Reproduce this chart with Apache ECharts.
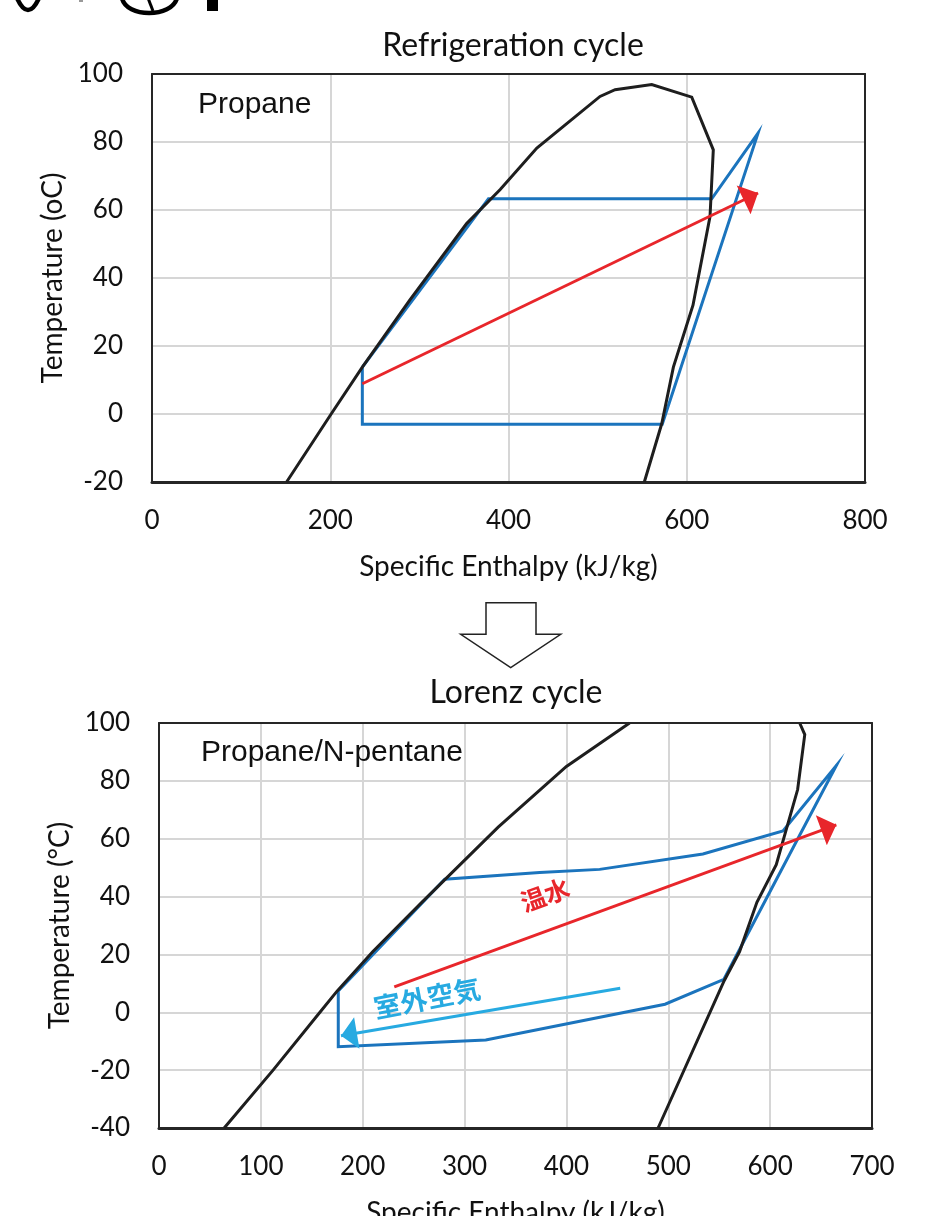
<!DOCTYPE html>
<html>
<head>
<meta charset="utf-8">
<script src="https://cdn.jsdelivr.net/npm/echarts@6/dist/echarts.min.js"></script>
<style>
html,body{margin:0;padding:0;background:#fff;}
#c{width:937px;height:1216px;}
</style>
</head>
<body>
<div id="c"></div>
<script>
// ---------- Data: chart 1 (Propane refrigeration cycle) ----------
const title1 = 'Refrigeration cycle';
const label1 = 'Propane';
const xTicks1 = {min: 0, max: 800, interval: 200};
const yTicks1 = {min: -20, max: 100, interval: 20};
const dome1 = [[151,-20],[201,0],[236,13.8],[289,33.4],[353,56],[390.7,66],[431.8,78.2],[502.7,93.4],[519.6,95.4],[560.7,96.9],[605.6,93.2],[629.8,77.7],[626.1,58.1],[607,32],[585,13.8],[572,-2.8],[552.4,-20]];
const cycle1 = [[236,13.8],[377.5,63.3],[628,63.3],[680,82.6],[572.5,-3],[236,-3],[236,13.8]];
const water1 = [[236,8.9],[680,65]];

// ---------- Data: chart 2 (Propane/N-pentane Lorenz cycle) ----------
const title2 = 'Lorenz cycle';
const label2 = 'Propane/N-pentane';
const xTicks2 = {min: 0, max: 700, interval: 100};
const yTicks2 = {min: -40, max: 100, interval: 20};
const liquid2 = [[64,-40],[112,-20],[158,0],[175,7.4],[210,21],[258,38],[333,64],[400,85],[462,100]];
const vapor2 = [[490,-40],[555,11],[570,21],[587,38],[606,51],[627,77],[634,96],[629,100]];
const cycle2 = [[176,7.4],[280.5,46],[373.7,48.3],[432.6,49.4],[534,54.7],[612.6,62.7],[665,85.3],[554.6,11.4],[496.8,2.8],[320.8,-9.6],[176,-11.9],[176,7.4]];
const water2 = [[231,8.8],[665,64.8]];
const air2 = [[452.8,8.3],[178.7,-8.1]];
const waterLabel = '温水';
const airLabel = '室外空気';

const xName = 'Specific Enthalpy (kJ/kg)';
const yName1 = 'Temperature (oC)';
const yName2 = 'Temperature (°C)';

// ---------- Styles ----------
const FONT = 'Lato';
const BLACK = '#1e1e1e';
const BLUE = '#1b74bd';
const RED = '#e8262b';
const LIGHTBLUE = '#27aae1';
const GRIDC = '#d6d6d6';
const FRAME = '#262626';
// arrow head whose tip sits at the centre of its box (so the tip lands on the end point)
const ARROW_HEAD = 'path://M0,0L0,0.01M0,20L10,40L-10,40Z';

function xAxis(t, gi) {
  return {
    type: 'value', gridIndex: gi, min: t.min, max: t.max, interval: t.interval,
    name: xName, nameLocation: 'middle', nameGap: 71,
    nameTextStyle: {fontFamily: FONT, fontSize: 28, color: '#111'},
    axisLine: {show: true, onZero: false, lineStyle: {color: FRAME, width: 3}},
    axisTick: {show: false},
    axisLabel: {fontFamily: FONT, fontSize: 26, color: '#111', margin: 26},
    splitLine: {show: true, lineStyle: {color: GRIDC, width: 2}}
  };
}
function yAxis(t, gi, name, gap) {
  return {
    type: 'value', gridIndex: gi, min: t.min, max: t.max, interval: t.interval,
    name: name, nameLocation: 'middle', nameGap: gap,
    nameTextStyle: {fontFamily: FONT, fontSize: 28, color: '#111'},
    axisLine: {show: true, onZero: false, lineStyle: {color: FRAME, width: 2}},
    axisTick: {show: false},
    axisLabel: {fontFamily: FONT, fontSize: 26, color: '#111', margin: 29},
    splitLine: {show: true, lineStyle: {color: GRIDC, width: 2}}
  };
}
function frameAxis(t, gi, pos) {
  return {
    type: 'value', gridIndex: gi, min: t.min, max: t.max, interval: t.interval, position: pos,
    axisLine: {show: true, onZero: false, lineStyle: {color: FRAME, width: 2}},
    axisTick: {show: false}, axisLabel: {show: false}, splitLine: {show: false}, z: 5
  };
}
function lineSeries(data, color, gi, z) {
  return {type: 'line', data: data, xAxisIndex: gi, yAxisIndex: gi, showSymbol: false, symbol: 'none',
    silent: true, animation: false, lineStyle: {color: color, width: 3, join: 'miter'}, z: z};
}
function arrowSeries(pts, color, gi) {
  return {type: 'lines', coordinateSystem: 'cartesian2d', xAxisIndex: gi, yAxisIndex: gi,
    symbol: ['none', ARROW_HEAD], symbolSize: [14, 32], silent: true, animation: false,
    lineStyle: {color: color, width: 3, opacity: 1}, data: [{coords: pts}], z: 4};
}

const chart = echarts.init(document.getElementById('c'), null, {renderer: 'canvas'});
chart.setOption({
  backgroundColor: '#fff',
  animation: false,
  grid: [
    {left: 152, top: 74, width: 713, height: 408, outerBoundsMode: 'none', containLabel: false},
    {left: 159, top: 723, width: 713, height: 405, outerBoundsMode: 'none', containLabel: false}
  ],
  xAxis: [xAxis(xTicks1, 0), xAxis(xTicks2, 1), frameAxis(xTicks1, 0, 'top'), frameAxis(xTicks2, 1, 'top')],
  yAxis: [yAxis(yTicks1, 0, yName1, 83), yAxis(yTicks2, 1, yName2, 83), frameAxis(yTicks1, 0, 'right'), frameAxis(yTicks2, 1, 'right')],
  series: [
    lineSeries(cycle1, BLUE, 0, 2),
    lineSeries(dome1, BLACK, 0, 3),
    arrowSeries(water1, RED, 0),
    lineSeries(cycle2, BLUE, 1, 2),
    lineSeries(liquid2, BLACK, 1, 3),
    lineSeries(vapor2, BLACK, 1, 3),
    arrowSeries(water2, RED, 1),
    arrowSeries(air2, LIGHTBLUE, 1)
  ],
  graphic: [
    {type: 'text', x: 513, y: 46, style: {text: title1, fontFamily: FONT, fontSize: 32, fill: '#111', textAlign: 'center', textVerticalAlign: 'middle'}},
    {type: 'text', x: 516, y: 693, style: {text: title2, fontFamily: FONT, fontSize: 32, fill: '#111', textAlign: 'center', textVerticalAlign: 'middle'}},
    {type: 'text', x: 198, y: 105, z: 10, style: {text: label1, fontFamily: 'Liberation Sans', fontSize: 30, fill: '#111', textAlign: 'left', textVerticalAlign: 'middle'}},
    {type: 'text', x: 201, y: 753, z: 10, style: {text: label2, fontFamily: 'Liberation Sans', fontSize: 30, fill: '#111', textAlign: 'left', textVerticalAlign: 'middle'}},
    {type: 'text', x: 545, y: 895, rotation: 20 * Math.PI / 180, z: 10, style: {text: waterLabel, fontFamily: 'Noto Sans CJK JP', fontWeight: 'bold', fontSize: 25, fill: RED, textAlign: 'center', textVerticalAlign: 'middle'}},
    {type: 'text', x: 427, y: 998, rotation: 11 * Math.PI / 180, z: 10, style: {text: airLabel, fontFamily: 'Noto Sans CJK JP', fontWeight: 'bold', fontSize: 27, fill: LIGHTBLUE, textAlign: 'center', textVerticalAlign: 'middle'}},
    // down arrow between charts
    {type: 'polygon', z: 10, shape: {points: [[486,602.7],[536,602.7],[536,634.3],[560.7,634.3],[510.7,667.7],[460.7,634.3],[486,634.3]]},
      style: {fill: '#fff', stroke: '#222', lineWidth: 1.5}},
    // fragments of cut-off heading at the very top
    {type: 'bezierCurve', shape: {x1: 17, y1: -2, x2: 39, y2: -2, cpx1: 24, cpy1: 14, cpx2: 32, cpy2: 14}, style: {stroke: '#000', lineWidth: 4.5, fill: null}},
    {type: 'bezierCurve', shape: {x1: 122, y1: -2, x2: 177, y2: -2, cpx1: 126, cpy1: 18, cpx2: 172, cpy2: 18}, style: {stroke: '#000', lineWidth: 4.5, fill: null}},
    {type: 'line', shape: {x1: 148, y1: -2, x2: 153, y2: 11}, style: {stroke: '#000', lineWidth: 3}},
    {type: 'rect', shape: {x: 207, y: 0, width: 11, height: 11}, style: {fill: '#000'}},
    {type: 'rect', shape: {x: 79, y: 0, width: 4, height: 2}, style: {fill: '#999'}}
  ]
});
</script>
</body>
</html>
